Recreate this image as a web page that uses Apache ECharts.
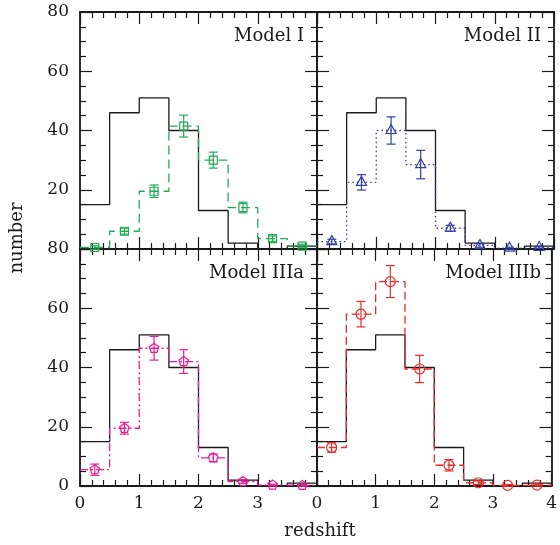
<!DOCTYPE html>
<html>
<head>
<meta charset="utf-8">
<script src="https://cdn.jsdelivr.net/npm/echarts@6/dist/echarts.min.js"></script>
<style>
html,body{margin:0;padding:0;background:#fff}
#main{width:560px;height:545px}
</style>
</head>
<body>
<div id="main"></div>
<script>
// histogram bins in redshift
var binEdges   = [0, 0.5, 1, 1.5, 2, 2.5, 3, 3.5, 4];
var binCenters = [0.25, 0.75, 1.25, 1.75, 2.25, 2.75, 3.25, 3.75];

// observed sample (black line, same in every panel)
var observed = [15, 46, 51, 40, 13, 2, 0, 1];

// models
var modelI       = [0.5, 6, 19.5, 41.5, 30, 14, 3.5, 1];
var modelIErr    = [0.6, 1, 2.1, 3.7, 2.7, 1.8, 0.9, 0.6];
var modelII      = [2.5, 22.5, 40, 28.5, 7, 1.2, 0.3, 0.5];
var modelIIErr   = [0.8, 2.6, 4.6, 4.8, 1, 0.6, 0.3, 0.3];
var modelIIIa    = [5.5, 19.5, 46.5, 42, 9.5, 1.5, 0.3, 0.2];
var modelIIIaErr = [1.9, 2, 4, 4, 1.3, 0.6, 0.3, 0.3];
var modelIIIb    = [13, 58, 69, 39.5, 7, 1.1, 0.2, 0.3];
var modelIIIbErr = [1.6, 4.3, 5.4, 4.6, 1.9, 0.6, 0.3, 0.3];

var xTicks = [0, 1, 2, 3, 4];
var yTicks = [0, 20, 40, 60, 80];

var FONT = 'DejaVu Serif';
var INK = '#1a1a1a';

var panels = [
    {name: 'Model I',    vals: modelI,    errs: modelIErr,    color: '#22aa55', dash: [9, 5],       marker: 'square'},
    {name: 'Model II',   vals: modelII,   errs: modelIIErr,   color: '#3340a0', dash: [1.5, 3],     marker: 'triangle'},
    {name: 'Model IIIa', vals: modelIIIa, errs: modelIIIaErr, color: '#ec1a95', dash: [8, 3, 2, 3], marker: 'pentagon'},
    {name: 'Model IIIb', vals: modelIIIb, errs: modelIIIbErr, color: '#ee2a2a', dash: [8, 4],       marker: 'circle'}
];

var gridPos = [
    {left: 80,  top: 12},
    {left: 317, top: 12},
    {left: 80,  top: 249},
    {left: 317, top: 249}
];

function stepData(vals) {
    return binEdges.map(function (e, i) {
        return [e, vals[Math.min(i, vals.length - 1)]];
    });
}

function markerShape(kind, cx, cy, color) {
    var st = {stroke: color, fill: 'none', lineWidth: 1.2};
    if (kind === 'square') {
        return {type: 'rect', shape: {x: cx - 4, y: cy - 4, width: 8, height: 8}, style: st};
    }
    if (kind === 'triangle') {
        return {type: 'polygon', shape: {points: [[cx, cy - 6], [cx - 5, cy + 3], [cx + 5, cy + 3]]}, style: st};
    }
    if (kind === 'pentagon') {
        var pts = [];
        for (var k = 0; k < 5; k++) {
            var a = -Math.PI / 2 + k * 2 * Math.PI / 5;
            pts.push([cx + 5 * Math.cos(a), cy + 5 * Math.sin(a)]);
        }
        return {type: 'polygon', shape: {points: pts}, style: st};
    }
    return {type: 'circle', shape: {cx: cx, cy: cy, r: 5}, style: st};
}

function errRenderer(color, kind) {
    return function (params, api) {
        var x = api.value(0), y = api.value(1), e = api.value(2);
        var p = api.coord([x, y]);
        var lo = api.coord([x, y - e]);
        var hi = api.coord([x, y + e]);
        var ls = {stroke: color, lineWidth: 1.2};
        return {
            type: 'group',
            children: [
                markerShape(kind, p[0], p[1], color),
                {type: 'line', shape: {x1: p[0], y1: lo[1], x2: p[0], y2: hi[1]}, style: ls},
                {type: 'line', shape: {x1: p[0] - 4.5, y1: lo[1], x2: p[0] + 4.5, y2: lo[1]}, style: ls},
                {type: 'line', shape: {x1: p[0] - 4.5, y1: hi[1], x2: p[0] + 4.5, y2: hi[1]}, style: ls}
            ]
        };
    };
}

var tickStyle = {color: INK, width: 1.2};
var labelStyle = {color: INK, fontFamily: FONT, fontSize: 17};

var grids = [], xAxes = [], yAxes = [], series = [], graphics = [];

gridPos.forEach(function (g, i) {
    grids.push({left: g.left, top: g.top, width: 237, height: 237, show: false});
    var isBottom = i >= 2, isLeft = i % 2 === 0;

    ['bottom', 'top'].forEach(function (pos) {
        xAxes.push({
            type: 'value', gridIndex: i, position: pos,
            min: xTicks[0], max: xTicks[xTicks.length - 1], interval: 1,
            axisLine: {show: true, onZero: false, lineStyle: {color: INK, width: 1.8}},
            axisTick: {inside: true, length: 12, lineStyle: tickStyle},
            minorTick: {show: true, splitNumber: 5, length: 6, lineStyle: tickStyle},
            splitLine: {show: false},
            axisLabel: Object.assign({
                show: pos === 'bottom' && isBottom,
                margin: 9,
                showMaxLabel: !isLeft
            }, labelStyle)
        });
    });
    ['left', 'right'].forEach(function (pos) {
        yAxes.push({
            type: 'value', gridIndex: i, position: pos,
            min: yTicks[0], max: yTicks[yTicks.length - 1], interval: 20,
            axisLine: {show: true, onZero: false, lineStyle: {color: INK, width: 1.8}},
            axisTick: {inside: true, length: 12, lineStyle: tickStyle},
            minorTick: {show: true, splitNumber: 4, length: 6, lineStyle: tickStyle},
            splitLine: {show: false},
            axisLabel: Object.assign({
                show: pos === 'left' && isLeft,
                margin: 11,
                showMinLabel: isBottom
            }, labelStyle)
        });
    });

    var m = panels[i];
    series.push({
        type: 'line', xAxisIndex: i * 2, yAxisIndex: i * 2,
        data: stepData(observed), step: 'end', symbol: 'none', silent: true,
        lineStyle: {color: INK, width: 1.3}, z: 3
    });
    series.push({
        type: 'line', xAxisIndex: i * 2, yAxisIndex: i * 2,
        data: stepData(m.vals), step: 'end', symbol: 'none', silent: true,
        lineStyle: {color: m.color, width: 1.3, type: m.dash}, z: 4
    });
    series.push({
        type: 'custom', xAxisIndex: i * 2, yAxisIndex: i * 2,
        data: binCenters.map(function (c, k) { return [c, m.vals[k], m.errs[k]]; }),
        encode: {x: 0, y: 1},
        renderItem: errRenderer(m.color, m.marker), silent: true, z: 5
    });

    graphics.push({
        type: 'text',
        x: g.left + 237 - 13, y: g.top + 24,
        style: {text: m.name, fill: INK, font: '18px "DejaVu Serif"', align: 'right', verticalAlign: 'middle'}
    });
});

graphics.push({
    type: 'text', x: 320, y: 531,
    style: {text: 'redshift', fill: INK, font: '18px "DejaVu Serif"', align: 'center', verticalAlign: 'middle'}
});
graphics.push({
    type: 'text', x: 17, y: 238, rotation: Math.PI / 2,
    style: {text: 'number', fill: INK, font: '18px "DejaVu Serif"', align: 'center', verticalAlign: 'middle'}
});

var myChart = echarts.init(document.getElementById('main'));
myChart.setOption({
    animation: false,
    backgroundColor: '#fff',
    grid: grids,
    xAxis: xAxes,
    yAxis: yAxes,
    series: series,
    graphic: graphics
});
window.addEventListener('resize', function () { myChart.resize(); });
</script>
</body>
</html>
